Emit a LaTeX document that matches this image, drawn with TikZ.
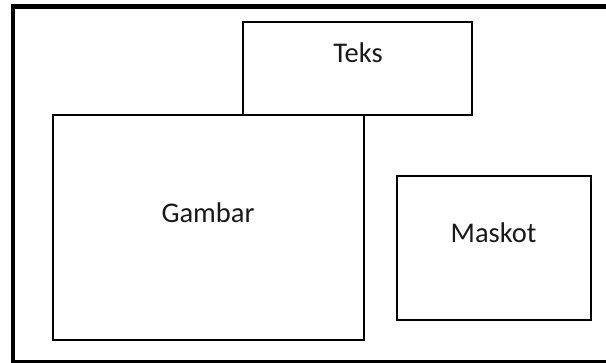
\documentclass[tikz,border=0pt]{standalone}
\usepackage{fontspec}
\setmainfont{Carlito}
\begin{document}
\begin{tikzpicture}[x=1pt,y=-1pt,
  panel/.style={draw=black,line width=2pt,fill=white,rectangle,inner sep=0pt,outer sep=0pt},
  frame/.style={draw=black,line width=4.5pt},
  label/.style={anchor=base,inner sep=0pt,font=\fontsize{28.5}{34}\selectfont,text=black!90}]
  \useasboundingbox (0,0) rectangle (606,363);
  % page frame (runs past the right and bottom edges)
  \draw[frame] (620,6.3) -- (13,6.3) -- (13,362) -- (620,362);
  % layout panels
  \node[panel,minimum width=229pt,minimum height=92.4pt] (teksbox) at (357.5,68.5) {};
  \node[panel,minimum width=311pt,minimum height=225.3pt] (gambarbox) at (208.5,227.65) {};
  \node[panel,minimum width=194pt,minimum height=143.2pt] (maskotbox) at (494,248.1) {};
  % panel captions
  \node[label] (teks) at (358,63) {Teks};
  \node[label] (gambar) at (208,223) {Gambar};
  \node[label] (maskot) at (493.5,243) {Maskot};
\end{tikzpicture}
\end{document}
